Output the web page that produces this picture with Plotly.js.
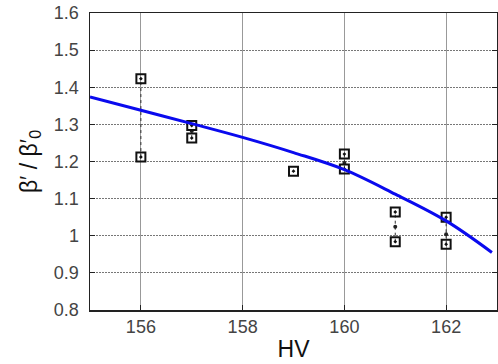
<!DOCTYPE html>
<html>
<head>
<meta charset="utf-8">
<script src="https://cdn.plot.ly/plotly-3.0.1.min.js"></script>
<style>html,body{margin:0;padding:0;background:#fff;}#chart{width:498px;height:364px;}</style>
</head>
<body>
<div id="chart"></div>
<script>
// Measured pairs (HV, two measurements) and their mean markers
var hvPairs   = [156, 157, 160, 161, 162];
var pairHigh  = [1.423, 1.297, 1.220, 1.064, 1.050];
var pairLow   = [1.212, 1.263, 1.180, 0.984, 0.977];
var pairMean  = [null, 1.282, 1.196, 1.024, 1.004];
// Single measurement
var hvSingle  = [159];
var valSingle = [1.174];
// Fitted curve
var fitHV  = [155, 156, 157, 158, 159, 160, 161, 162, 162.9];
var fitVal = [1.374, 1.338, 1.302, 1.265, 1.224, 1.178, 1.112, 1.040, 0.955];

var xTicks = [156, 158, 160, 162];
var yTicks = [0.8, 0.9, 1, 1.1, 1.2, 1.3, 1.4, 1.5, 1.6];

// build connector segments from the arrays
var segX = [], segY = [];
for (var i = 0; i < hvPairs.length; i++) {
  segX.push(hvPairs[i], hvPairs[i], null);
  segY.push(pairLow[i], pairHigh[i], null);
}
var ptsX = [], ptsY = [];
for (var j = 0; j < hvPairs.length; j++) {
  ptsX.push(hvPairs[j], hvPairs[j]);
  ptsY.push(pairHigh[j], pairLow[j]);
}
ptsX = ptsX.concat(hvSingle); ptsY = ptsY.concat(valSingle);

var traces = [
  {x: segX, y: segY, mode: 'lines', line: {color: '#333', width: 1, dash: 'dot'}, hoverinfo: 'skip', showlegend: false},
  {x: hvPairs, y: pairMean, mode: 'markers', marker: {color: '#222', size: 4, symbol: 'circle'}, showlegend: false},
  {x: ptsX, y: ptsY, mode: 'markers', marker: {symbol: 'square-open-dot', size: 9, color: '#111', line: {width: 2, color: '#111'}}, showlegend: false},
  {x: fitHV, y: fitVal, mode: 'lines', line: {color: '#0a0aee', width: 3, shape: 'spline'}, showlegend: false}
];

var tickFont = {family: 'Liberation Sans, Arial, sans-serif', size: 18, color: '#444'};
var layout = {
  width: 498, height: 364,
  margin: {l: 90, r: 1, t: 13, b: 54},
  paper_bgcolor: '#fff', plot_bgcolor: '#fff',
  showlegend: false,
  xaxis: {
    range: [155, 163], tickvals: xTicks, ticktext: xTicks.map(String),
    showgrid: true, gridcolor: '#999', gridwidth: 1, griddash: 'solid',
    showline: true, linecolor: '#222', linewidth: 1.5, mirror: true,
    ticks: 'inside', ticklen: 5, tickcolor: '#222',
    tickfont: tickFont, zeroline: false,
    title: {text: 'HV', font: {family: 'Liberation Sans, Arial, sans-serif', size: 23, color: '#111'}, standoff: 5}
  },
  yaxis: {
    range: [0.8, 1.6], tickvals: yTicks, ticktext: yTicks.map(function(v){return String(v);}),
    showgrid: true, gridcolor: '#777', gridwidth: 1, griddash: '2px,1px',
    showline: true, linecolor: '#222', linewidth: 1.5, mirror: 'ticks',
    ticks: 'inside', ticklen: 5, tickcolor: '#222', ticklabelstandoff: 6,
    tickfont: tickFont, zeroline: false,
    title: {text: 'β′ / β′<sub>0</sub>', font: {family: 'Liberation Sans, Arial, sans-serif', size: 23, color: '#111'}, standoff: 10}
  }
};
Plotly.newPlot('chart', traces, layout, {staticPlot: true, displayModeBar: false});
</script>
</body>
</html>
